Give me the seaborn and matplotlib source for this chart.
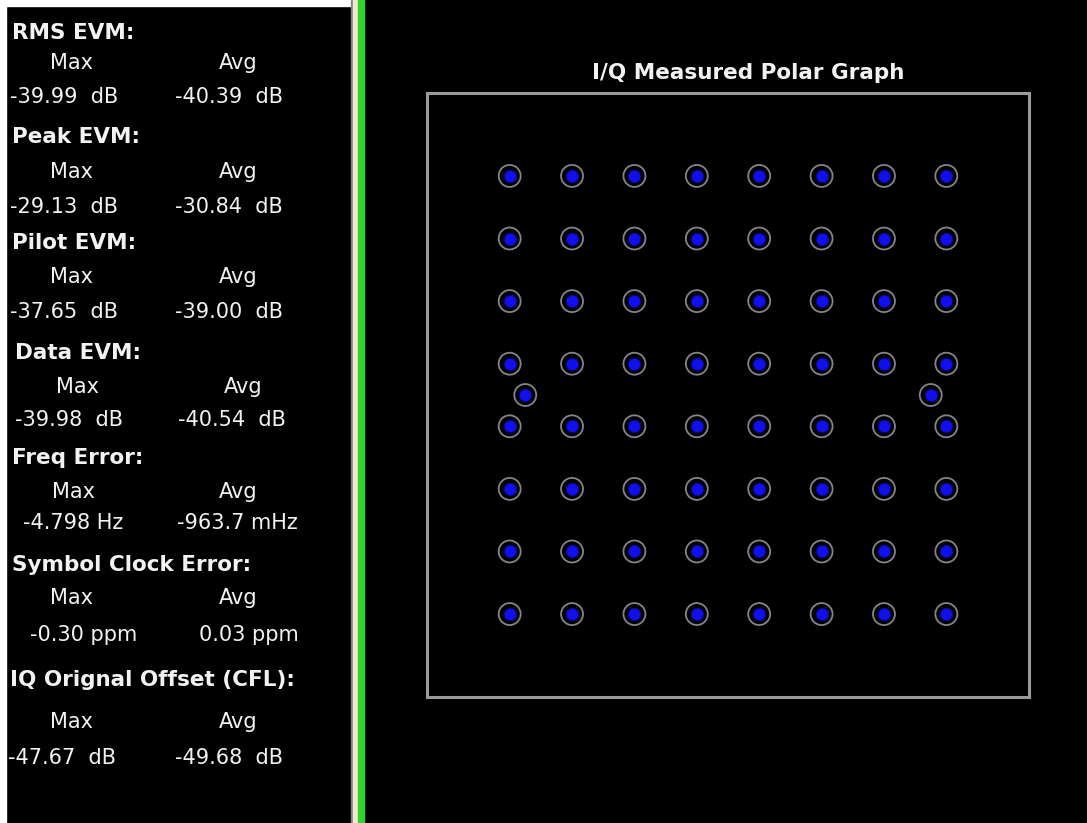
import numpy as np
import pandas as pd
import seaborn as sns
import matplotlib.pyplot as plt
from matplotlib.patches import Rectangle

# Constellation data (64-QAM grid + two extra measured points)
iq_levels = [-7, -5, -3, -1, 1, 3, 5, 7]
extra_i = [-6.5, 6.5]
extra_q = [0.0, 0.0]

# Measurement summary
headers = ['RMS EVM:', 'Peak EVM:', 'Pilot EVM:', 'Data EVM:', 'Freq Error:',
           'Symbol Clock Error:', 'IQ Orignal Offset (CFL):']
max_vals = ['-39.99  dB', '-29.13  dB', '-37.65  dB', '-39.98  dB', '-4.798 Hz',
            '-0.30 ppm', '-47.67  dB']
avg_vals = ['-40.39  dB', '-30.84  dB', '-39.00  dB', '-40.54  dB', '-963.7 mHz',
            '0.03 ppm', '-49.68  dB']

W, H = 1087, 823

# Build point table
gi, gq = np.meshgrid(iq_levels, iq_levels)
points = pd.DataFrame({'I': np.concatenate([gi.ravel(), extra_i]),
                       'Q': np.concatenate([gq.ravel(), extra_q])})

sns.set_style('dark')
plt.rcParams['font.family'] = ['DejaVu Sans']
fig = plt.figure(figsize=(W / 100, H / 100), dpi=100, facecolor='black')


def px(x, y):
    return x / W, 1 - y / H


# white frame on the left/top edge, divider lines
fig.add_artist(Rectangle((0, 0), 6 / W, 1, transform=fig.transFigure,
                         color='white', zorder=0))
fig.add_artist(Rectangle(px(0, 6), 352 / W, 6 / H, transform=fig.transFigure,
                         color='white', zorder=0))
fig.add_artist(Rectangle((351 / W, 0), 2 / W, 1, transform=fig.transFigure,
                         color='#8a8578', zorder=1))
fig.add_artist(Rectangle((353 / W, 0), 5 / W, 1, transform=fig.transFigure,
                         color='#efe9d6', zorder=1))
fig.add_artist(Rectangle((358 / W, 0), 6 / W, 1, transform=fig.transFigure,
                         color='#2fd42f', zorder=1))

# left text panel
head_y = [33, 137, 243, 353, 458, 565, 680]
label_y = [63, 172, 277, 387, 492, 598, 722]
val_y = [97, 207, 312, 420, 523, 635, 758]
head_x = [12, 12, 12, 15, 12, 12, 10]
lab_x = [(72, 238), (72, 238), (72, 238), (77, 243), (73, 238), (72, 238), (72, 238)]
val_x = [(10, 175), (10, 175), (10, 175), (15, 178), (23, 177), (30, 199), (8, 175)]
txt = '#f2f2f2'
for i, h in enumerate(headers):
    fig.text(*px(head_x[i], head_y[i]), h, color=txt, fontsize=15.5,
             fontweight='bold', va='center', ha='left')
    fig.text(*px(lab_x[i][0], label_y[i]), 'Max', color=txt, fontsize=15,
             va='center', ha='center')
    fig.text(*px(lab_x[i][1], label_y[i]), 'Avg', color=txt, fontsize=15,
             va='center', ha='center')
    fig.text(*px(val_x[i][0], val_y[i]), max_vals[i], color=txt, fontsize=15,
             va='center', ha='left')
    fig.text(*px(val_x[i][1], val_y[i]), avg_vals[i], color=txt, fontsize=15,
             va='center', ha='left')

# polar graph panel
ax = fig.add_axes([427 / W, 1 - 697 / H, 602 / W, 604 / H])
ax.set_facecolor('black')
sns.scatterplot(data=points, x='I', y='Q', ax=ax, s=250, color='black',
                edgecolor='#858585', linewidth=1.3, legend=False, zorder=2)
ax.collections[-1].set_facecolor('none')
sns.scatterplot(data=points, x='I', y='Q', ax=ax, s=80, color='#1010ee',
                edgecolor='#08087a', linewidth=0.8, legend=False, zorder=3)
ax.set_xlim(-9.65, 9.65)
ax.set_ylim(-9.65, 9.65)
ax.set_xticks([])
ax.set_yticks([])
ax.set_xlabel('')
ax.set_ylabel('')
ax.grid(False)
for sp in ax.spines.values():
    sp.set_visible(True)
    sp.set_color('#9a9a9a')
    sp.set_linewidth(2.2)

fig.text(*px(748, 73), 'I/Q Measured Polar Graph', color=txt, fontsize=15.5,
         fontweight='bold', ha='center', va='center')

fig.savefig('out.png', dpi=100, facecolor='black')
